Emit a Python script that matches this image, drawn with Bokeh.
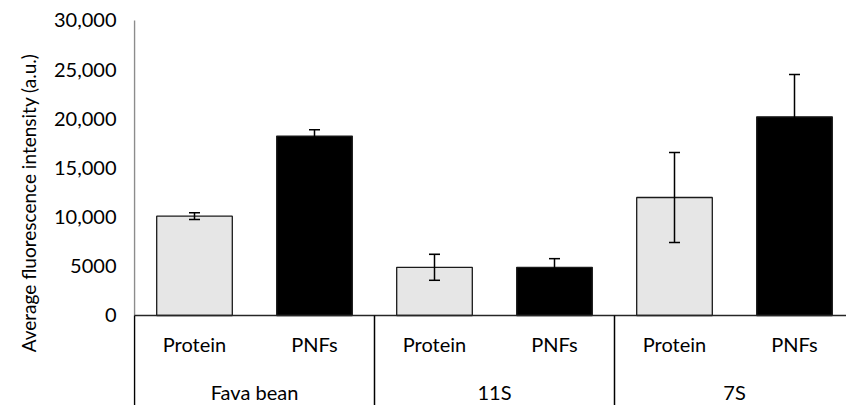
from bokeh.plotting import figure
from bokeh.models import (ColumnDataSource, Range1d, FixedTicker, Whisker, TeeHead,
                          Title)
from bokeh.core.properties import value
from bokeh.embed import file_html
from bokeh.resources import INLINE

# ---- data ----
groups = ["Fava bean", "11S", "7S"]
subgroups = ["Protein", "PNFs"]
means = [10100, 18250, 4900, 4900, 12000, 20200]
errors = [340, 650, 1320, 880, 4580, 4300]
y_ticks = [0, 5000, 10000, 15000, 20000, 25000, 30000]
y_tick_labels = ["0", "5000", "10,000", "15,000", "20,000", "25,000", "30,000"]
y_title = "Average fluorescence intensity (a.u.)"
sub_colors = {"Protein": "#e6e6e6", "PNFs": "#000000"}

FONT = "Lato"

# ---- derived ----
n_sub = len(subgroups)
xs, labels, colors = [], [], []
for gi, g in enumerate(groups):
    for si, s in enumerate(subgroups):
        xs.append(gi * n_sub + si + 0.5)
        labels.append(s)
        colors.append(sub_colors[s])
upper = [m + e for m, e in zip(means, errors)]
lower = [m - e for m, e in zip(means, errors)]
bar_src = ColumnDataSource(dict(x=xs, top=means, color=colors, label=labels,
                                upper=upper, lower=lower))
grp_src = ColumnDataSource(dict(x=[gi * n_sub + n_sub / 2 for gi in range(len(groups))],
                                label=groups))

W, H = 846, 405
left_border = 133
px_per_cat = 120.0
x0 = -1.0 / px_per_cat
x1 = x0 + (W - left_border) / px_per_cat
y_top = 31220 + 8 / 295 * 30000
y_bot = -9153

p = figure(width=W, height=H, output_backend="svg", toolbar_location=None,
           x_range=Range1d(x0, x1), y_range=Range1d(y_bot, y_top),
           x_axis_type=None, min_border_left=left_border, min_border_right=0,
           min_border_top=0, min_border_bottom=0)
p.outline_line_color = None
p.grid.visible = False
p.background_fill_color = "white"
p.border_fill_color = "white"

ax = p.yaxis[0]
ax.ticker = FixedTicker(ticks=y_ticks)
ax.major_label_overrides = {t: l for t, l in zip(y_ticks, y_tick_labels)}
ax.axis_line_color = None
ax.major_tick_line_color = None
ax.minor_tick_line_color = None
ax.major_label_text_font = FONT
ax.major_label_text_font_size = "20px"
ax.major_label_text_color = "#000000"
ax.major_label_standoff = 11

# y title
p.add_layout(Title(text=y_title, align="center", offset=20, standoff=21,
                   text_font=FONT, text_font_size="19px", text_font_style="normal",
                   text_color="black"), "left")

# y axis line (grey) from 0 to max tick
p.segment(x0=[0], y0=[0], x1=[0], y1=[max(y_ticks)], line_color="#8c8c8c", line_width=1.5)

# bars
p.vbar(x="x", top="top", width=0.63, bottom=0, source=bar_src,
       fill_color="color", line_color="#1a1a1a", line_width=1.3)

# error bars
wh = Whisker(source=bar_src, base="x", upper="upper", lower="lower",
             line_color="black", line_width=1.5, level="overlay",
             upper_head=TeeHead(size=11, line_color="black", line_width=1.5),
             lower_head=TeeHead(size=11, line_color="black", line_width=1.5))
p.add_layout(wh)

# baseline
p.segment(x0=[0], y0=[0], x1=[x1], y1=[0], line_color="#262626", line_width=1.5)

# category table separators
sep_x = [gi * n_sub for gi in range(len(groups) + 1)]
p.segment(x0=sep_x, y0=[0] * len(sep_x), x1=sep_x, y1=[y_bot] * len(sep_x),
          line_color="black", line_width=1.5)

# category labels
p.text(x="x", y=-2850, text="label", source=bar_src, text_align="center",
       text_baseline="middle", text_font=value(FONT), text_font_size="20px",
       text_color="black")
p.text(x="x", y=-7830, text="label", source=grp_src, text_align="center",
       text_baseline="middle", text_font=value(FONT), text_font_size="20px",
       text_color="black")

open("out.html", "w").write(file_html(p, INLINE))
